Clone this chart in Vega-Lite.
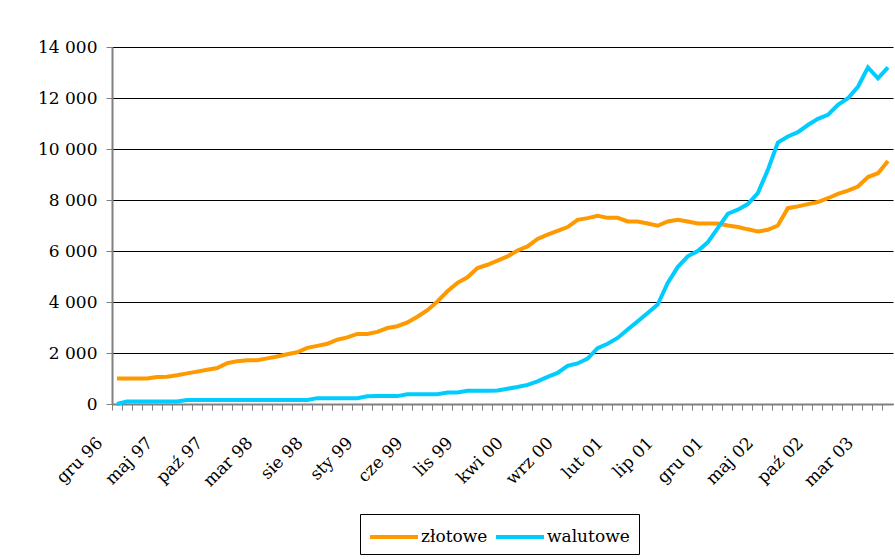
{
  "$schema": "https://vega.github.io/schema/vega-lite/v6.json",
  "width": 781,
  "height": 357,
  "autosize": "none",
  "padding": {"left": 112, "top": 47, "right": 2, "bottom": 155},
  "background": "white",
  "config": {
    "view": {"stroke": null},
    "font": "DejaVu Serif",
    "axis": {"labelFont": "DejaVu Serif"},
    "legend": {"labelFont": "DejaVu Serif"}
  },
  "data": {
    "values": [
      {"m":"gru 96","z":1000,"w":0},
      {"m":"sty 97","z":1000,"w":100},
      {"m":"lut 97","z":1000,"w":100},
      {"m":"mar 97","z":1000,"w":100},
      {"m":"kwi 97","z":1060,"w":100},
      {"m":"maj 97","z":1070,"w":100},
      {"m":"cze 97","z":1130,"w":100},
      {"m":"lip 97","z":1200,"w":160},
      {"m":"sie 97","z":1270,"w":160},
      {"m":"wrz 97","z":1340,"w":160},
      {"m":"paź 97","z":1410,"w":160},
      {"m":"lis 97","z":1600,"w":160},
      {"m":"gru 97","z":1680,"w":160},
      {"m":"sty 98","z":1720,"w":160},
      {"m":"lut 98","z":1720,"w":160},
      {"m":"mar 98","z":1790,"w":160},
      {"m":"kwi 98","z":1860,"w":160},
      {"m":"maj 98","z":1950,"w":160},
      {"m":"cze 98","z":2030,"w":160},
      {"m":"lip 98","z":2200,"w":160},
      {"m":"sie 98","z":2280,"w":230},
      {"m":"wrz 98","z":2360,"w":230},
      {"m":"paź 98","z":2520,"w":230},
      {"m":"lis 98","z":2610,"w":230},
      {"m":"gru 98","z":2750,"w":230},
      {"m":"sty 99","z":2750,"w":300},
      {"m":"lut 99","z":2830,"w":310},
      {"m":"mar 99","z":2980,"w":310},
      {"m":"kwi 99","z":3050,"w":310},
      {"m":"maj 99","z":3200,"w":385},
      {"m":"cze 99","z":3420,"w":385},
      {"m":"lip 99","z":3680,"w":385},
      {"m":"sie 99","z":4020,"w":385},
      {"m":"wrz 99","z":4420,"w":450},
      {"m":"paź 99","z":4750,"w":450},
      {"m":"lis 99","z":4970,"w":516},
      {"m":"gru 99","z":5330,"w":516},
      {"m":"sty 00","z":5460,"w":516},
      {"m":"lut 00","z":5620,"w":530},
      {"m":"mar 00","z":5790,"w":600},
      {"m":"kwi 00","z":6020,"w":670},
      {"m":"maj 00","z":6180,"w":750},
      {"m":"cze 00","z":6470,"w":890},
      {"m":"lip 00","z":6640,"w":1065},
      {"m":"sie 00","z":6790,"w":1220},
      {"m":"wrz 00","z":6940,"w":1500},
      {"m":"paź 00","z":7220,"w":1590},
      {"m":"lis 00","z":7290,"w":1780},
      {"m":"gru 00","z":7380,"w":2190},
      {"m":"sty 01","z":7300,"w":2360},
      {"m":"lut 01","z":7300,"w":2590},
      {"m":"mar 01","z":7160,"w":2920},
      {"m":"kwi 01","z":7160,"w":3240},
      {"m":"maj 01","z":7080,"w":3570},
      {"m":"cze 01","z":6990,"w":3900},
      {"m":"lip 01","z":7160,"w":4750},
      {"m":"sie 01","z":7220,"w":5370},
      {"m":"wrz 01","z":7160,"w":5790},
      {"m":"paź 01","z":7080,"w":6000},
      {"m":"lis 01","z":7080,"w":6340},
      {"m":"gru 01","z":7080,"w":6900},
      {"m":"sty 02","z":7000,"w":7460},
      {"m":"lut 02","z":6940,"w":7620},
      {"m":"mar 02","z":6850,"w":7840},
      {"m":"kwi 02","z":6770,"w":8270},
      {"m":"maj 02","z":6830,"w":9180},
      {"m":"cze 02","z":7000,"w":10250},
      {"m":"lip 02","z":7680,"w":10490},
      {"m":"sie 02","z":7750,"w":10660},
      {"m":"wrz 02","z":7840,"w":10940},
      {"m":"paź 02","z":7920,"w":11180},
      {"m":"lis 02","z":8070,"w":11340},
      {"m":"gru 02","z":8240,"w":11730},
      {"m":"sty 03","z":8370,"w":11990},
      {"m":"lut 03","z":8530,"w":12440},
      {"m":"mar 03","z":8900,"w":13200},
      {"m":"kwi 03","z":9050,"w":12770},
      {"m":"maj 03","z":9530,"w":13200}
    ]
  },
  "transform": [
    {"fold": ["z", "w"], "as": ["k", "v"]},
    {"calculate": "datum.k === 'z' ? 'złotowe' : 'walutowe'", "as": "s"}
  ],
  "mark": {"type": "line", "strokeWidth": 4, "strokeJoin": "miter", "strokeCap": "butt"},
  "encoding": {
    "x": {
      "field": "m",
      "type": "ordinal",
      "sort": null,
      "scale": {"type": "band", "paddingInner": 0, "paddingOuter": 0},
      "axis": {
        "title": null,
        "bandPosition": 0,
        "labelAngle": -45,
        "labelAlign": "right",
        "labelBaseline": "middle",
        "labelOffset": -17,
        "labelPadding": 30,
        "labelFontSize": 17,
        "labelFont": "DejaVu Serif",
        "labelColor": "black",
        "labelOverlap": false,
        "labelBound": false,
        "labelExpr": "indexof(['gru 96','maj 97','paź 97','mar 98','sie 98','sty 99','cze 99','lis 99','kwi 00','wrz 00','lut 01','lip 01','gru 01','maj 02','paź 02','mar 03'], datum.value) >= 0 ? datum.value : ''",
        "tickSize": 6,
        "tickColor": "#808080",
        "tickWidth": 1,
        "domainColor": "#808080",
        "domainWidth": 2,
        "grid": false
      }
    },
    "y": {
      "field": "v",
      "type": "quantitative",
      "scale": {"domain": [0, 14000], "nice": false},
      "axis": {
        "title": null,
        "values": [0, 2000, 4000, 6000, 8000, 10000, 12000, 14000],
        "labelExpr": "replace(format(datum.value, ',d'), ',', ' ')",
        "labelFontSize": 17,
        "labelFont": "DejaVu Serif",
        "labelColor": "black",
        "labelPadding": 9,
        "tickSize": 6,
        "tickColor": "#808080",
        "domainColor": "#808080",
        "domainWidth": 2,
        "grid": true,
        "gridColor": "black",
        "gridWidth": 1
      }
    },
    "color": {
      "field": "s",
      "type": "nominal",
      "scale": {"domain": ["złotowe", "walutowe"], "range": ["#FF9900", "#00CCFF"]},
      "legend": {
        "title": null,
        "orient": "none",
        "legendX": 248,
        "legendY": 467,
        "direction": "horizontal",
        "strokeColor": "black",
        "padding": 9,
        "symbolType": "M-2,0H2",
        "symbolSize": 576,
        "symbolOffset": 11,
        "symbolStrokeWidth": 4,
        "labelFontSize": 17,
        "labelFont": "DejaVu Serif",
        "labelColor": "black",
        "labelOffset": 13,
        "columnPadding": 0
      }
    }
  }
}
